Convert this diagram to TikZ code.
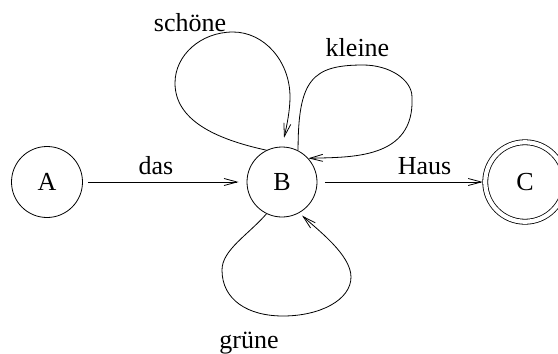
\documentclass[tikz,border=0pt]{standalone}
\usepackage{fontspec}
\setmainfont{Liberation Serif}
\usetikzlibrary{arrows.meta}
\begin{document}
\begin{tikzpicture}[x=1pt,y=-1pt,
  every node/.style={font=\fontsize{26}{30}\selectfont},
  state/.style={circle,draw,line width=0.8pt,minimum size=71pt,inner sep=0pt},
  final/.style={circle,draw,line width=0.8pt,double,double distance=4.2pt,minimum size=79.5pt,inner sep=0pt,outer sep=2.5pt},
  edge/.style={line width=0.8pt,-{Straight Barb[length=13pt,width=7pt]}},
  lbl/.style={anchor=base,inner sep=0pt}]
\useasboundingbox (0,0) rectangle (558,354);
\node[state] (A) at (47,182) {A};
\node[state,minimum size=70pt] (B) at (282,182) {B};
\node[final] (C) at (525,182) {C};
\draw[edge,shorten <=5pt,shorten >=8pt] (A) -- (B);
\draw[edge,shorten <=7.5pt] (B) -- (C);
% schoene loop
\draw[edge,shorten >=9pt] (B.116) .. controls (215,139) and (175,120) .. (175,83)
  .. controls (175,55) and (201,32) .. (233,32)
  .. controls (264,32) and (290,61) .. (290,97)
  .. controls (290,110) and (287,125) .. (B.90);
% kleine loop
\draw[edge] (B.63) .. controls (298,80) and (312,65) .. (363,65)
  .. controls (390,65) and (412,80) .. (412,97)
  .. controls (415,160) and (350,157) .. (B.42);
% gruene loop
\draw[edge,shorten >=4pt] (B.244) .. controls (248,235) and (222,250) .. (222,270)
  .. controls (222,300) and (248,316) .. (283,316)
  .. controls (320,316) and (351,300) .. (351,277)
  .. controls (351,255) and (318,230) .. (B.299);
\node[lbl] (ldas) at (156,174) {das};
\node[lbl] (lhaus) at (424.5,174) {Haus};
\node[lbl] (lschoene) at (190,31) {schöne};
\node[lbl] (lkleine) at (357.5,56) {kleine};
\node[lbl] (lgruene) at (249,348) {grüne};
\end{tikzpicture}
\end{document}
